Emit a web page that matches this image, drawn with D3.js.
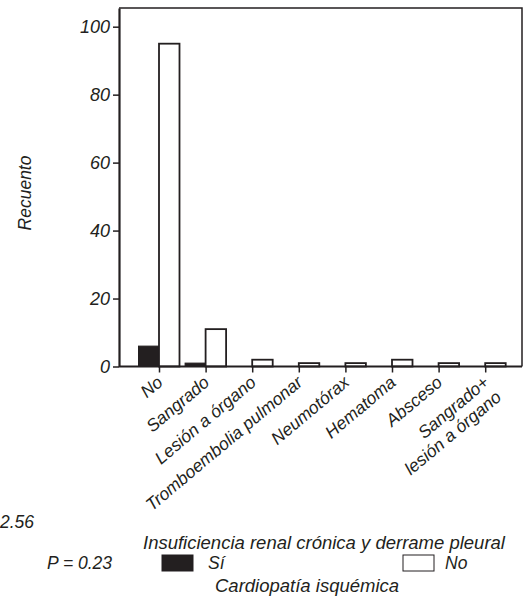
<!DOCTYPE html>
<html>
<head>
<meta charset="utf-8">
<script src="https://cdn.jsdelivr.net/npm/d3@7"></script>
<style>
  html, body { margin: 0; padding: 0; background: #fff; }
  svg { display: block; }
  text { font-family: "Liberation Sans", Arial, Helvetica, sans-serif; font-style: italic; fill: #231f20; }
</style>
</head>
<body>
<script>
// Complications by group, split by ischaemic heart disease (Sí / No)
const categories = [
  ["No"],
  ["Sangrado"],
  ["Lesión a órgano"],
  ["Tromboembolia pulmonar"],
  ["Neumotórax"],
  ["Hematoma"],
  ["Absceso"],
  ["Sangrado+", "lesión a órgano"]
];
const valuesSi = [6, 1, 0, 0, 0, 0, 0, 0];
const valuesNo = [95, 11, 2, 1, 1, 2, 1, 1];
const yTicks = [0, 20, 40, 60, 80, 100];
const seriesNames = ["Sí", "No"];

const W = 525, H = 601;
const ink = "#231f20";
const svg = d3.select("body").append("svg").attr("width", W).attr("height", H);

const frame = { left: 119, right: 522, top: 8, bottom: 366.5 };

const x = d3.scalePoint()
  .domain(d3.range(categories.length))
  .range([159, 485.2]);
const barW = 20.5;

const y = d3.scaleLinear()
  .domain([0, 105.5])
  .range([frame.bottom, frame.top]);

// frame: top and right edges
svg.append("path")
  .attr("d", `M${frame.left},${frame.top}H${frame.right}V${frame.bottom}`)
  .attr("fill", "none").attr("stroke", ink).attr("stroke-width", 1.5);

// bars
const g = svg.append("g");
g.selectAll("rect.si").data(valuesSi).join("rect")
  .attr("class", "si")
  .attr("x", (d, i) => x(i) - barW)
  .attr("y", d => y(d))
  .attr("width", barW)
  .attr("height", d => y(0) - y(d))
  .attr("fill", ink)
  .attr("stroke", d => d > 0 ? ink : "none")
  .attr("stroke-width", 1);

g.selectAll("rect.no").data(valuesNo).join("rect")
  .attr("class", "no")
  .attr("x", (d, i) => x(i))
  .attr("y", d => y(d))
  .attr("width", barW)
  .attr("height", d => y(0) - y(d))
  .attr("fill", "#fff")
  .attr("stroke", ink)
  .attr("stroke-width", 1.8);

// y axis
const yAxis = svg.append("g")
  .attr("transform", `translate(${frame.left},0)`)
  .call(d3.axisLeft(y).tickValues(yTicks).tickSize(6).tickPadding(3).tickSizeOuter(0));
yAxis.select(".domain").attr("stroke", ink).attr("stroke-width", 2.2);
yAxis.selectAll(".tick line").attr("stroke", ink).attr("stroke-width", 1.5);
yAxis.selectAll(".tick text").attr("font-size", 18).attr("fill", ink)
  .style("font-family", "'Liberation Sans', Arial, sans-serif").style("font-style", "italic");

// x axis
const xAxis = svg.append("g")
  .attr("transform", `translate(0,${frame.bottom})`)
  .call(d3.axisBottom(x).tickSize(6).tickSizeOuter(0).tickFormat(""));
xAxis.select(".domain").attr("d", `M${frame.left},0H${frame.right}`)
  .attr("stroke", ink).attr("stroke-width", 2.2);
xAxis.selectAll(".tick line").attr("stroke", ink).attr("stroke-width", 1.5);

// rotated category labels
const labels = svg.append("g").selectAll("text").data(categories).join("text")
  .attr("transform", (d, i) => `translate(${x(i) + 1},${frame.bottom + 13}) rotate(-40)`)
  .attr("text-anchor", "end")
  .attr("font-size", 17.5);
labels.each(function(lines) {
  const t = d3.select(this);
  lines.forEach((line, k) => {
    t.append("tspan").attr("x", 0).attr("dy", k === 0 ? "0.35em" : "1.1em").text(line);
  });
});

// y axis title
svg.append("text")
  .attr("transform", "translate(31,193) rotate(-90)")
  .attr("text-anchor", "middle")
  .attr("font-size", 17.5)
  .text("Recuento");

// statistics
svg.append("text").attr("x", 0).attr("y", 528)
  .attr("font-size", 17.5).text("2.56");
svg.append("text").attr("x", 47).attr("y", 569)
  .attr("font-size", 17.5).text("P = 0.23");

// titles
svg.append("text").attr("x", 143).attr("y", 549)
  .attr("font-size", 18.5).text("Insuficiencia renal crónica y derrame pleural");
svg.append("text").attr("x", 215).attr("y", 592)
  .attr("font-size", 18.5).text("Cardiopatía isquémica");

// legend
const legend = [
  { name: seriesNames[0], fill: ink, x: 162, tx: 46 },
  { name: seriesNames[1], fill: "#fff", x: 403, tx: 42 }
];
const lg = svg.append("g").selectAll("g").data(legend).join("g")
  .attr("transform", d => `translate(${d.x},555)`);
lg.append("rect").attr("width", 31).attr("height", 16)
  .attr("fill", d => d.fill).attr("stroke", ink).attr("stroke-width", 1);
lg.append("text").attr("x", d => d.tx).attr("y", 14)
  .attr("font-size", 17.5).text(d => d.name);
</script>
</body>
</html>
